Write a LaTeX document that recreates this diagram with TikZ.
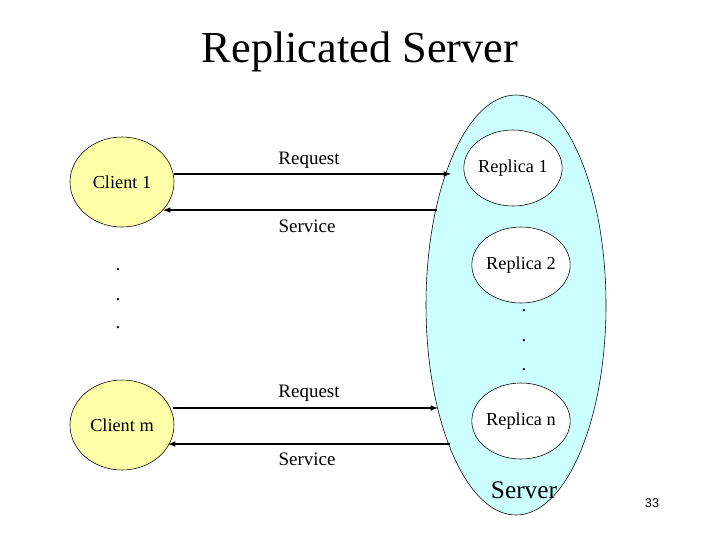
\documentclass[tikz,border=0pt]{standalone}
\usepackage{fontspec}
\setmainfont{Liberation Serif}
\newfontfamily\slidesans{Liberation Sans}
\definecolor{clientfill}{RGB}{255,255,170}
\definecolor{serverfill}{RGB}{204,255,255}
\tikzset{
  client/.style={draw,fill=clientfill,ellipse,minimum width=104\pxu,minimum height=90\pxu,font=\fontsize{13}{15}\selectfont},
  replica/.style={draw,fill=white,ellipse,minimum width=86\pxu,minimum height=76\pxu,inner sep=0pt,font=\fontsize{13}{15}\selectfont},
  msg/.style={-latex,thick},
  lbl/.style={font=\fontsize{13.5}{16}\selectfont},
}
\newcommand{\pxu}{*0.025cm}
\usetikzlibrary{shapes.geometric}
\begin{document}
\begin{tikzpicture}[x=0.025cm,y=-0.025cm]
				\useasboundingbox (0,0) rectangle (720,540);
				\node[font=\fontsize{31.5}{36}\selectfont] (title) at (360,52) {Replicated Server};
				\draw[fill=serverfill] (516,305) ellipse [x radius=90,y radius=210];
				\node[client] (c1) at (122,182) {Client 1};
				\node[client] (cm) at (122,425) {Client m};
				\node[replica] (r1) at (513,168) {Replica 1};
				\node[replica,minimum width=82\pxu] (r2) at (521,265) {Replica 2};
				\node[replica] (rn) at (521,421) {Replica n};
				\coordinate (q1) at (451,174);
				\coordinate (s1) at (437,210);
				\coordinate (qm) at (438,408);
				\coordinate (sm) at (450,444);
				\draw[msg] (c1.east |- q1) -- (q1);
				\draw[msg] (s1) -- (163,210);
				\draw[msg] (173,408) -- (qm);
				\draw[msg] (sm) -- (168,444);
				\node[lbl] (lq1) at (309,160) {Request};
				\node[lbl] (ls1) at (307,226) {Service};
				\node[lbl] (lqm) at (309,393) {Request};
				\node[lbl] (lsm) at (307,459) {Service};
				\foreach \y in {270,300,328} \node[lbl] at (118,\y) {.};
				\foreach \y in {311,341,370} \node[lbl] at (524,\y) {.};
				\node[font=\fontsize{18}{21}\selectfont] (srv) at (524,490) {Server};
				\node[font=\slidesans\fontsize{9}{11}\selectfont] (pg) at (652,503) {33};
			\end{tikzpicture}
\end{document}
